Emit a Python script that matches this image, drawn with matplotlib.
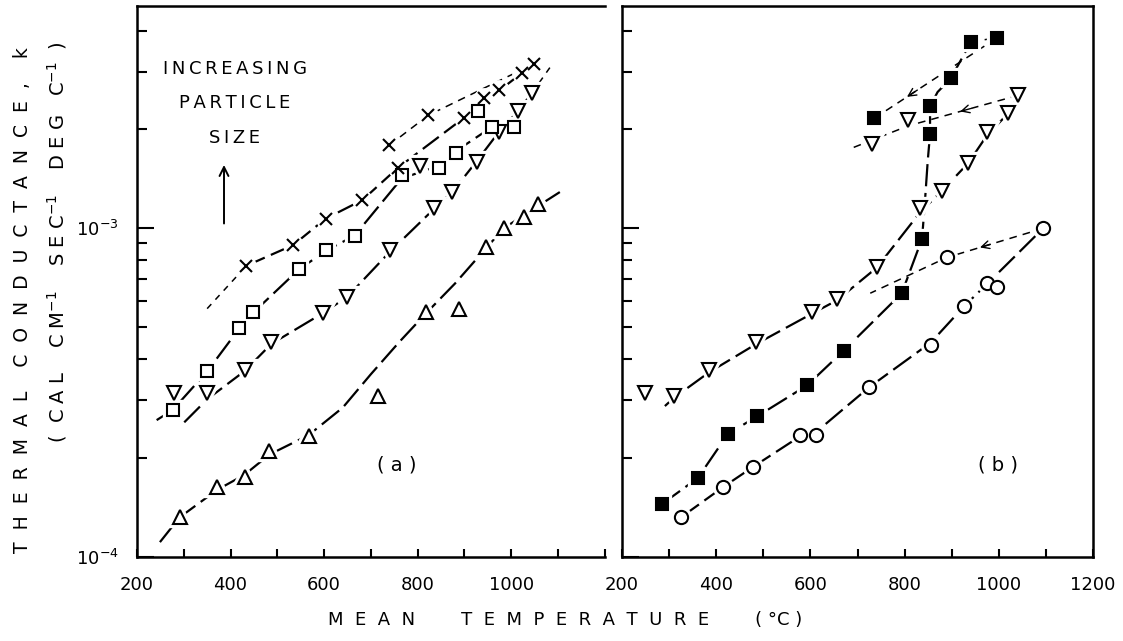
import numpy as np
import matplotlib
matplotlib.use('Agg')
import matplotlib.pyplot as plt
from matplotlib.ticker import LogLocator, NullFormatter, MultipleLocator, FixedLocator

plt.rcParams['font.family'] = ['DejaVu Sans']
plt.rcParams['mathtext.default'] = 'regular'

# ---- (a) four particle sizes, k in cal cm-1 s-1 degC-1 ----
# crosses (largest particles)
xa_cross = [434, 534, 603, 682, 758, 899, 941, 975, 1024]
ka_cross = [7.7e-4, 8.9e-4, 1.07e-3, 1.22e-3, 1.53e-3, 2.17e-3, 2.5e-3, 2.63e-3, 2.98e-3]
xa_cross_up = [739, 823, 1049]
ka_cross_up = [1.79e-3, 2.21e-3, 3.17e-3]
# open squares
xa_sq = [276, 350, 419, 449, 546, 605, 665, 766, 846, 882, 929, 960, 1005]
ka_sq = [2.8e-4, 3.67e-4, 4.97e-4, 5.55e-4, 7.5e-4, 8.57e-4, 9.5e-4, 1.45e-3,
         1.53e-3, 1.7e-3, 2.28e-3, 2.04e-3, 2.03e-3]
# inverted triangles
xa_dn = [280, 350, 430, 487, 597, 650, 741, 804, 836, 874, 926, 973, 1015, 1045]
ka_dn = [3.15e-4, 3.15e-4, 3.7e-4, 4.5e-4, 5.52e-4, 6.17e-4, 8.57e-4, 1.55e-3,
         1.15e-3, 1.29e-3, 1.59e-3, 1.96e-3, 2.28e-3, 2.59e-3]
# triangles (smallest particles)
xa_up = [291, 371, 430, 483, 567, 715, 817, 889, 946, 984, 1028, 1057]
ka_up = [1.32e-4, 1.63e-4, 1.75e-4, 2.1e-4, 2.33e-4, 3.1e-4, 5.56e-4, 5.7e-4,
         8.76e-4, 1.0e-3, 1.08e-3, 1.19e-3]

# fitted curves through (a)
xa_cross_lead = [350, 434]
ka_cross_lead = [5.7e-4, 7.7e-4]
xa_cross_fit = [434, 534, 603, 682, 758, 899, 941, 975, 1024]
ka_cross_fit = [7.7e-4, 8.9e-4, 1.07e-3, 1.22e-3, 1.53e-3, 2.17e-3, 2.45e-3, 2.63e-3, 2.98e-3]
xa_sq_fit = [242, 276, 350, 419, 449, 546, 605, 665, 766, 846, 882, 960, 1005]
ka_sq_fit = [2.61e-4, 2.8e-4, 3.67e-4, 4.97e-4, 5.55e-4, 7.5e-4, 8.57e-4, 9.5e-4,
             1.42e-3, 1.55e-3, 1.72e-3, 2.04e-3, 2.03e-3]
xa_dn_fit = [301, 350, 430, 487, 597, 650, 741, 836, 874, 926, 973, 1015, 1045]
ka_dn_fit = [2.57e-4, 3.02e-4, 3.68e-4, 4.45e-4, 5.52e-4, 6.2e-4, 8.5e-4, 1.15e-3,
             1.29e-3, 1.6e-3, 1.96e-3, 2.28e-3, 2.59e-3]
xa_dn_tail = [1045, 1083]
ka_dn_tail = [2.59e-3, 3.09e-3]
xa_up_fit = [249, 291, 371, 430, 483, 567, 640, 700, 760, 817, 880, 946, 984, 1028, 1104]
ka_up_fit = [1.11e-4, 1.32e-4, 1.6e-4, 1.78e-4, 2.05e-4, 2.35e-4, 2.85e-4, 3.6e-4,
             4.5e-4, 5.5e-4, 6.8e-4, 8.7e-4, 1.0e-3, 1.1e-3, 1.29e-3]

# ---- (b) heating runs and cooling runs ----
xb_fsq = [285, 361, 425, 487, 593, 671, 794, 837, 854, 854, 898, 941, 996, 735]
kb_fsq = [1.45e-4, 1.74e-4, 2.37e-4, 2.68e-4, 3.33e-4, 4.25e-4, 6.35e-4, 9.3e-4,
          1.94e-3, 2.35e-3, 2.86e-3, 3.7e-3, 3.8e-3, 2.16e-3]
xb_fsq_fit = [285, 361, 425, 487, 593, 671, 794, 837, 843, 849, 854, 854, 870, 898, 941]
kb_fsq_fit = [1.45e-4, 1.74e-4, 2.37e-4, 2.68e-4, 3.33e-4, 4.25e-4, 6.35e-4, 9.3e-4,
              1.2e-3, 1.6e-3, 1.94e-3, 2.35e-3, 2.6e-3, 2.86e-3, 3.7e-3]
xb_fsq_cool = [941, 996, 735]
kb_fsq_cool = [3.7e-3, 3.8e-3, 2.16e-3]

xb_dn = [249, 310, 385, 485, 603, 657, 741, 833, 879, 935, 975, 1020, 1041, 807, 731]
kb_dn = [3.15e-4, 3.1e-4, 3.7e-4, 4.5e-4, 5.56e-4, 6.1e-4, 7.61e-4, 1.15e-3, 1.3e-3,
         1.58e-3, 1.96e-3, 2.24e-3, 2.54e-3, 2.14e-3, 1.81e-3]
xb_dn_fit = [291, 310, 385, 485, 603, 657, 741, 833, 879, 935, 975, 1020, 1041]
kb_dn_fit = [2.88e-4, 3.05e-4, 3.65e-4, 4.45e-4, 5.5e-4, 6.05e-4, 7.6e-4, 1.12e-3,
             1.3e-3, 1.58e-3, 1.92e-3, 2.24e-3, 2.54e-3]
xb_dn_cool = [1041, 807, 690]
kb_dn_cool = [2.54e-3, 2.05e-3, 1.76e-3]

xb_circ = [325, 414, 478, 578, 612, 724, 856, 926, 975, 996, 1094, 890]
kb_circ = [1.32e-4, 1.63e-4, 1.88e-4, 2.35e-4, 2.35e-4, 3.28e-4, 4.41e-4, 5.79e-4,
           6.8e-4, 6.62e-4, 1.0e-3, 8.16e-4]
xb_circ_fit = [325, 414, 478, 578, 612, 724, 856, 926, 985, 1094]
kb_circ_fit = [1.32e-4, 1.63e-4, 1.88e-4, 2.33e-4, 2.4e-4, 3.28e-4, 4.5e-4, 5.79e-4,
               7.0e-4, 1.0e-3]
xb_circ_cool = [1094, 890, 727]
kb_circ_cool = [1.0e-3, 8.16e-4, 6.35e-4]

x_ticks = [200, 400, 600, 800, 1000, 1200]


def spaced(s, sep='\u2009'):
    return sep.join(s)


def points(ax, x, k, marker, ms, filled=False):
    # white halo first so the curves look broken around each symbol
    halo = 'o' if marker == 'x' else marker
    ax.plot(x, k, ls='none', marker=halo, ms=ms, mfc='white', mec='white',
            mew=6, zorder=3)
    ax.plot(x, k, ls='none', marker=marker, ms=ms,
            mfc='k' if filled else 'white', mec='k', mew=1.5, zorder=4)


def curve(ax, x, k, dashes=None, lw=1.6):
    line, = ax.plot(x, k, color='k', lw=lw, zorder=2, solid_capstyle='butt')
    if dashes:
        line.set_dashes(dashes)
        line.set_dash_capstyle('butt')


def arrow_on(ax, x0, k0, x1, k1, xt, dx=22):
    # open arrowhead sitting on the cooling line, pointing towards x1
    f = lambda x: 10 ** (np.log10(k0) + (np.log10(k1) - np.log10(k0)) * (x - x0) / (x1 - x0))
    ax.annotate('', xy=(xt, f(xt)), xytext=(xt + dx, f(xt + dx)),
                arrowprops=dict(arrowstyle='->', lw=1.0, color='k',
                                mutation_scale=14, shrinkA=0, shrinkB=0),
                zorder=2)


fig = plt.figure(figsize=(11.23, 6.41), dpi=100)
axa = fig.add_axes([0.122, 0.131, 0.4165, 0.8596])
axb = fig.add_axes([0.5539, 0.131, 0.4194, 0.8596])

for ax in (axa, axb):
    ax.set_yscale('log')
    ax.set_xlim(200, 1200)
    ax.set_ylim(1e-4, 4.75e-3)
    ax.xaxis.set_major_locator(FixedLocator(x_ticks))
    ax.xaxis.set_minor_locator(MultipleLocator(100))
    ax.yaxis.set_major_locator(FixedLocator([1e-4, 1e-3]))
    ax.yaxis.set_minor_locator(LogLocator(base=10, subs=np.arange(2, 10)))
    ax.yaxis.set_minor_formatter(NullFormatter())
    ax.tick_params(which='both', direction='in', top=False, right=False,
                   width=1.5, labelsize=13)
    ax.tick_params(axis='x', which='both', length=6, pad=14)
    ax.tick_params(axis='y', which='major', length=12, pad=13)
    ax.tick_params(axis='y', which='minor', length=7)
    for sp in ax.spines.values():
        sp.set_linewidth(1.8)

axa.spines['right'].set_visible(False)
axa.set_xticklabels(['200', '400', '600', '800', '1000', ''])
axa.set_yticklabels([r'$10^{-4}$', r'$10^{-3}$'])
axb.set_yticklabels([])

# ---- panel (a) ----
curve(axa, xa_cross_lead, ka_cross_lead, dashes=(4, 4), lw=1.1)
curve(axa, xa_cross_fit, ka_cross_fit, dashes=(9, 3))
curve(axa, xa_cross_up, ka_cross_up, dashes=(5, 4), lw=1.1)
curve(axa, xa_sq_fit, ka_sq_fit, dashes=(10, 3))
curve(axa, xa_dn_fit, ka_dn_fit, dashes=(10, 3))
curve(axa, xa_dn_tail, ka_dn_tail, dashes=(4, 4), lw=1.1)
curve(axa, xa_up_fit, ka_up_fit, dashes=(10, 3))

points(axa, xa_up, ka_up, '^', 10)
points(axa, xa_dn, ka_dn, 'v', 10)
points(axa, xa_sq, ka_sq, 's', 9)
points(axa, xa_cross, ka_cross, 'x', 9)
points(axa, xa_cross_up, ka_cross_up, 'x', 9)

axa.text(409, 3.06e-3, spaced('INCREASING'), ha='center', va='center', fontsize=13)
axa.text(409, 2.41e-3, spaced('PARTICLE'), ha='center', va='center', fontsize=13)
axa.text(409, 1.89e-3, spaced('SIZE'), ha='center', va='center', fontsize=13)
axa.annotate('', xy=(386, 1.56e-3), xytext=(386, 1.035e-3),
             arrowprops=dict(arrowstyle='->', lw=1.4, color='k', mutation_scale=16,
                             shrinkA=0, shrinkB=0))
axa.text(755, 1.9e-4, '( a )', ha='center', va='center', fontsize=14)

# ---- panel (b) ----
curve(axb, xb_fsq_fit, kb_fsq_fit, dashes=(10, 3))
curve(axb, xb_fsq_cool, kb_fsq_cool, dashes=(5, 4), lw=1.1)
curve(axb, xb_dn_fit, kb_dn_fit, dashes=(10, 3))
curve(axb, xb_dn_cool, kb_dn_cool, dashes=(5, 4), lw=1.1)
curve(axb, xb_circ_fit, kb_circ_fit, dashes=(10, 3))
curve(axb, xb_circ_cool, kb_circ_cool, dashes=(5, 4), lw=1.1)

arrow_on(axb, 996, 3.8e-3, 735, 2.16e-3, 805)
arrow_on(axb, 1041, 2.54e-3, 807, 2.05e-3, 918)
arrow_on(axb, 1094, 1.0e-3, 890, 8.16e-4, 960)

points(axb, xb_circ, kb_circ, 'o', 9.5)
points(axb, xb_dn, kb_dn, 'v', 10)
points(axb, xb_fsq, kb_fsq, 's', 9, filled=True)

axb.text(998, 1.9e-4, '( b )', ha='center', va='center', fontsize=14)

# axis titles
ylab1 = '    '.join(['  '.join('THERMAL'), '  '.join('CONDUCTANCE,'), 'k'])
fig.text(0.0196, 0.532, ylab1, rotation=90, ha='center', va='center', fontsize=13.5)
ylab2 = ('(  ' + ' '.join('CAL') + '    ' + ' '.join('CM') + r'$^{-1}$' + '    '
         + ' '.join('SEC') + r'$^{-1}$' + '    ' + ' '.join('DEG') + '   C' + r'$^{-1}$' + '  )')
fig.text(0.051, 0.622, ylab2, rotation=90, ha='center', va='center', fontsize=14)
fig.text(0.503, 0.033, 'M  E  A  N        T  E  M  P  E  R  A  T  U  R  E        ( °C )',
         ha='center', va='center', fontsize=13)

fig.savefig('out.png', dpi=100)
